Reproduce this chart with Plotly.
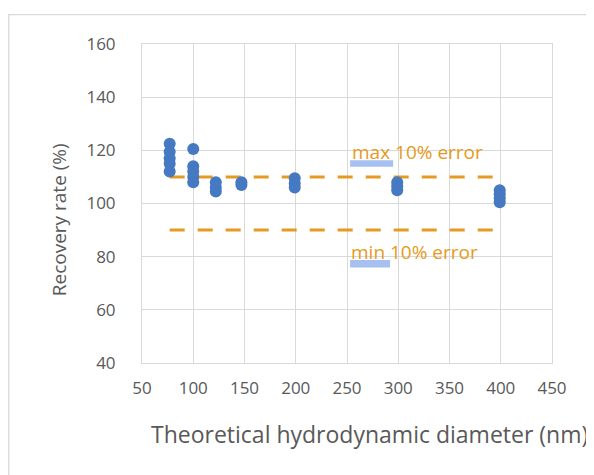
import plotly.graph_objects as go

# Data
diam_groups = [77, 100, 122, 147, 199, 299, 399]
recovery_groups = [
    [122.5, 119.5, 117.0, 115.0, 112.0],
    [120.5, 114.0, 112.0, 110.0, 108.0],
    [108.0, 106.0, 104.5],
    [108.0, 107.0],
    [109.5, 107.5, 106.0],
    [108.0, 106.5, 105.0],
    [105.0, 103.5, 102.0, 100.5],
]
limit_x = [77, 399]
max_limit = [110, 110]
min_limit = [90, 90]
x_ticks = [50, 100, 150, 200, 250, 300, 350, 400, 450]
y_ticks = [40, 60, 80, 100, 120, 140, 160]

xs, ys = [], []
for d, vals in zip(diam_groups, recovery_groups):
    for v in vals:
        xs.append(d)
        ys.append(v)

ORANGE = "#E59A22"
BLUE = "#4579C2"
GREY = "#595959"
GRID = "#D9D9D9"
FONT = "Open Sans, Noto Sans, sans-serif"

fig = go.Figure()
fig.add_trace(go.Scatter(x=limit_x, y=max_limit, mode="lines",
                         line=dict(color=ORANGE, width=3, dash="15px,13px"),
                         hoverinfo="skip", showlegend=False))
fig.add_trace(go.Scatter(x=limit_x, y=min_limit, mode="lines",
                         line=dict(color=ORANGE, width=3, dash="15px,13px"),
                         hoverinfo="skip", showlegend=False))
fig.add_trace(go.Scatter(x=xs, y=ys, mode="markers",
                         marker=dict(color=BLUE, size=12, line=dict(width=0)),
                         showlegend=False))

# light-blue key bars under labels
fig.add_shape(type="rect", x0=253, x1=295, y0=113.8, y1=116.3,
              fillcolor="#A6C1F0", line=dict(width=0), layer="above")
fig.add_shape(type="rect", x0=253, x1=292, y0=75.9, y1=78.7,
              fillcolor="#A6C1F0", line=dict(width=0), layer="above")

fig.add_annotation(x=252.5, y=119.3, text="max 10% error", showarrow=False,
                   xanchor="left", yanchor="middle",
                   font=dict(family=FONT, size=19, color=ORANGE))
fig.add_annotation(x=252, y=81.8, text="min 10% error", showarrow=False,
                   xanchor="left", yanchor="middle",
                   font=dict(family=FONT, size=19, color=ORANGE))

# outer chart border (top and left visible)
fig.add_shape(type="rect", xref="paper", yref="paper",
              x0=-0.325, x1=2, y0=-1, y1=1.092,
              line=dict(color=GRID, width=1.3), fillcolor="rgba(0,0,0,0)", layer="below")

# axis titles
fig.add_annotation(xref="paper", yref="paper", x=0.016, y=-0.222,
                   text="Theoretical hydrodynamic diameter (nm)", showarrow=False,
                   xanchor="left", yanchor="middle",
                   font=dict(family=FONT, size=23, color=GREY))
fig.add_annotation(xref="paper", yref="paper", x=-0.202, y=0.448,
                   text="Recovery rate (%)", showarrow=False, textangle=-90,
                   xanchor="center", yanchor="middle",
                   font=dict(family=FONT, size=19, color=GREY))

fig.update_xaxes(range=[50, 450], tickvals=x_ticks, showgrid=True, gridcolor=GRID,
                 gridwidth=1, showline=True, linecolor=GRID, mirror=True,
                 zeroline=False, ticks="", ticklabelstandoff=10,
                 tickfont=dict(family=FONT, size=17, color=GREY))
fig.update_yaxes(range=[40, 160], tickvals=y_ticks, showgrid=True, gridcolor=GRID,
                 gridwidth=1, showline=True, linecolor=GRID, mirror=True,
                 zeroline=False, ticks="", ticklabelstandoff=22,
                 tickfont=dict(family=FONT, size=17, color=GREY))

# page body adds an 8px offset; margins compensate for it
fig.update_layout(width=594, height=475, autosize=False,
                  margin=dict(l=133.7, r=49.7, t=36, b=120.3),
                  paper_bgcolor="white", plot_bgcolor="white")

fig.write_html("out.html")
